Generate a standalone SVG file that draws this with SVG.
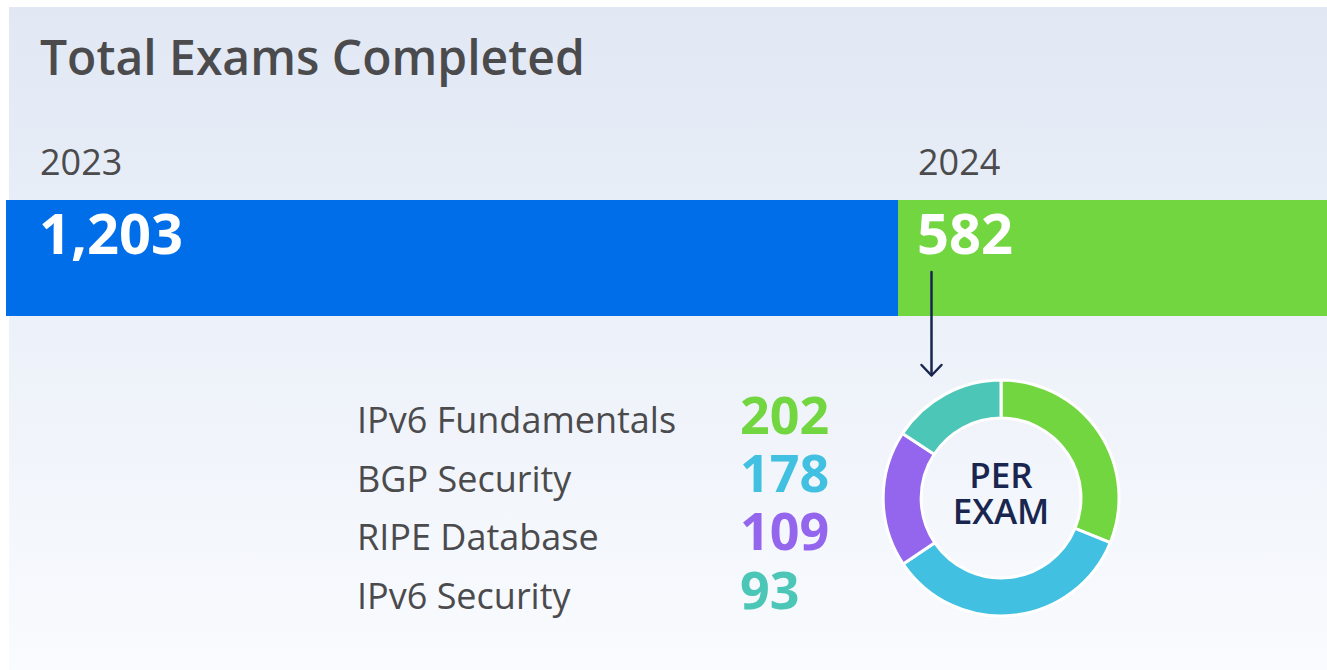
<svg xmlns="http://www.w3.org/2000/svg" width="1327" height="670" viewBox="0 0 1327 670">
<defs>
<linearGradient id="bg" x1="0" y1="0" x2="0" y2="1">
<stop offset="0" stop-color="#E1E8F4"/>
<stop offset="1" stop-color="#F9FBFE"/>
</linearGradient>
</defs>
<style>
text{font-family:"Open Sans","Liberation Sans",sans-serif}
.title{font-size:48px;font-weight:600;fill:#4B4B4D}
.year{font-size:36px;font-weight:400;fill:#4B4B4D}
.big{font-size:56px;font-weight:700;fill:#FFFFFF}
.lab{font-size:36px;font-weight:400;fill:#4B4B4D}
.num{font-size:52px;font-weight:700}
.ctr{font-size:35px;font-weight:600;fill:#19264F;text-anchor:middle}
.seg{stroke:#FFFFFF;stroke-width:3;stroke-linejoin:round}
.conn{stroke:#19264F;stroke-width:2.5;fill:none;stroke-linecap:round;stroke-linejoin:round}
</style>
<rect x="0" y="0" width="1327" height="670" fill="#FFFFFF"/>
<rect x="9" y="7" width="1318" height="663" fill="url(#bg)"/>
<g id="title"><text class="title" x="40" y="75">Total Exams Completed</text></g>
<g id="bar2023">
<rect x="6" y="200" width="892" height="116" fill="#006EE9"/>
<text class="year" x="40" y="175">2023</text>
<text class="big" x="39" y="254">1,203</text>
</g>
<g id="bar2024">
<rect x="898" y="200" width="429" height="116" fill="#72D640"/>
<text class="year" x="918" y="175">2024</text>
<text class="big" x="917" y="254">582</text>
</g>
<g id="connectors">
<path class="conn" d="M931.5 272 V375"/>
<path class="conn" d="M921.5 365 L931.5 375.5 L941.5 365"/>
</g>
<g id="legend">
<text class="lab" x="357" y="433">IPv6 Fundamentals</text>
<text class="num" x="740" y="434" fill="#72D640">202</text>
<text class="lab" x="357" y="492">BGP Security</text>
<text class="num" x="740" y="492" fill="#41C0E1">178</text>
<text class="lab" x="357" y="550">RIPE Database</text>
<text class="num" x="740" y="550" fill="#9466EE">109</text>
<text class="lab" x="357" y="609">IPv6 Security</text>
<text class="num" x="740" y="609" fill="#4CC6B6">93</text>
</g>
<g id="donut">
<path class="seg" fill="#72D640" d="M1001 380 A118 118 0 0 1 1110.2 542.7 L1075 528.3 A80 80 0 0 0 1001 418 Z"/>
<path class="seg" fill="#41C0E1" d="M1110.2 542.7 A118 118 0 0 1 903.2 564 L934.7 542.7 A80 80 0 0 0 1075 528.3 Z"/>
<path class="seg" fill="#9466EE" d="M903.2 564 A118 118 0 0 1 902.5 433.5 L934.2 454.3 A80 80 0 0 0 934.7 542.7 Z"/>
<path class="seg" fill="#4CC6B6" d="M902.5 433.5 A118 118 0 0 1 1001 380 L1001 418 A80 80 0 0 0 934.2 454.3 Z"/>
<text class="ctr" x="1001" y="488">PER</text>
<text class="ctr" x="1001" y="524">EXAM</text>
</g>
</svg>
